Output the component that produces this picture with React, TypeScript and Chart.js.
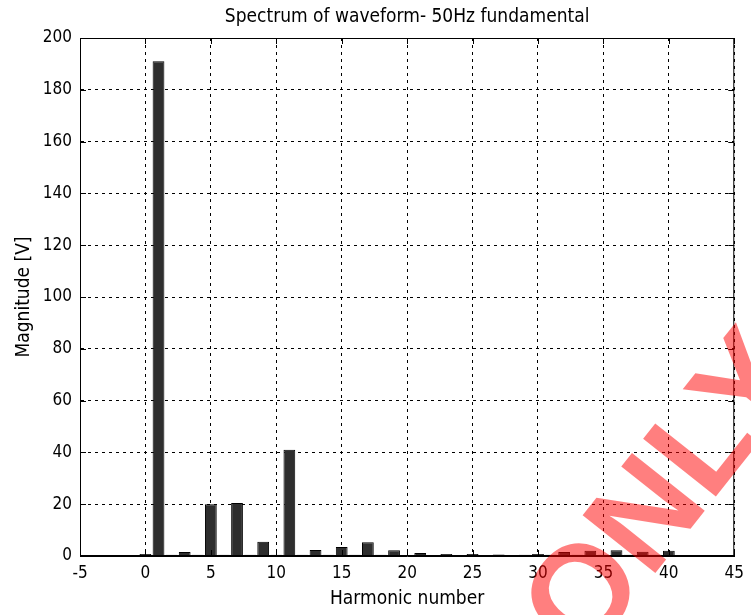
import React, { useEffect, useRef } from "react";
import { Chart, registerables } from "chart.js";

Chart.register(...registerables);

const harmonics = [0,1,2,3,4,5,6,7,8,9,10,11,12,13,14,15,16,17,18,19,20,21,22,23,24,25,26,27,28,29,30,31,32,33,34,35,36,37,38,39,40];
const magnitudes = [0.8,191,0.5,1.5,0.5,20,0.5,20.5,0.5,5.5,0.5,41,0.5,2.3,0.5,3.5,0.5,5.3,0.5,2.2,0.3,1.2,0.4,0.8,0.4,0.8,0.4,0.6,0.3,0.5,0.8,0.5,1.5,0.5,2,0.5,2.2,0.5,1.6,0.5,2];
const xTickValues = [-5,0,5,10,15,20,25,30,35,40,45];
const yTickValues = [0,20,40,60,80,100,120,140,160,180,200];
const titleText = "Spectrum of waveform- 50Hz fundamental";
const xTitle = "Harmonic number";
const yTitle = "Magnitude [V]";
const watermark = "ONLY";

const FONT = "'Liberation Sans Narrow', 'Arial Narrow', 'DejaVu Sans Condensed', 'Liberation Sans', sans-serif";

export default function App() {
  const ref = useRef<HTMLCanvasElement | null>(null);
  useEffect(() => {
    if (!ref.current) return;
    const boxPlugin = {
      id: "boxPlugin",
      afterDraw(chart: any) {
        const { ctx, chartArea } = chart;
        const { left, right, top, bottom } = chartArea;
        ctx.save();
        ctx.strokeStyle = "#000";
        ctx.lineWidth = 1;
        ctx.setLineDash([]);
        ctx.strokeRect(left + 0.5, top + 0.5, right - left - 1, bottom - top - 1);
        const xs = chart.scales.x;
        const ys = chart.scales.y;
        ctx.beginPath();
        xTickValues.forEach((v) => {
          const px = Math.round(xs.getPixelForValue(v)) + 0.5;
          ctx.moveTo(px, bottom); ctx.lineTo(px, bottom - 6);
          ctx.moveTo(px, top); ctx.lineTo(px, top + 6);
        });
        yTickValues.forEach((v) => {
          const py = Math.round(ys.getPixelForValue(v)) + 0.5;
          ctx.moveTo(left, py); ctx.lineTo(left + 6, py);
          ctx.moveTo(right, py); ctx.lineTo(right - 6, py);
        });
        ctx.stroke();
        // title centred over the plot area
        ctx.fillStyle = "#000";
        ctx.font = "19px " + FONT;
        ctx.textAlign = "center";
        ctx.textBaseline = "middle";
        ctx.fillText(titleText, (left + right) / 2, 17);
        // watermark
        ctx.translate(668, 497);
        ctx.rotate(-0.9);
        ctx.font = "bold 135px 'Liberation Sans', sans-serif";
        ctx.fillStyle = "rgba(255,0,0,0.5)";
        ctx.fillText(watermark, 0, 0);
        ctx.restore();
      },
    };
    const chart = new Chart(ref.current, {
      type: "bar",
      data: {
        datasets: [
          {
            data: harmonics.map((h, i) => ({ x: h, y: magnitudes[i] })),
            backgroundColor: "#2e2e2e",
            borderColor: "#000",
            borderWidth: 1,
            barPercentage: 0.9,
            categoryPercentage: 1,
          },
        ],
      },
      options: {
        animation: false,
        responsive: false,
        devicePixelRatio: 1,
        layout: { padding: { left: 0, right: 15, top: 38, bottom: 0 } },
        plugins: {
          legend: { display: false },
          tooltip: { enabled: false },
          title: { display: false },
        },
        scales: {
          x: {
            type: "linear",
            offset: false,
            min: -5,
            max: 45,
            afterBuildTicks: (s: any) => { s.ticks = xTickValues.map((v) => ({ value: v })); },
            afterFit: (s: any) => { s.height = 59; },
            ticks: { color: "#000", padding: 7, font: { family: FONT, size: 17 }, maxRotation: 0, autoSkip: false },
            grid: { color: "#000", drawTicks: false, lineWidth: 1, offset: false },
            border: { display: true, color: "#000", dash: [3, 4] },
            title: { display: true, text: xTitle, color: "#000", font: { family: FONT, size: 19 }, padding: { top: 5, bottom: 5 } },
          },
          y: {
            type: "linear",
            min: 0,
            max: 200,
            afterBuildTicks: (s: any) => { s.ticks = yTickValues.map((v) => ({ value: v })); },
            afterFit: (s: any) => { s.width = 80; },
            ticks: { color: "#000", padding: 8, font: { family: FONT, size: 17 }, autoSkip: false },
            grid: { color: "#000", drawTicks: false, lineWidth: 1 },
            border: { display: true, color: "#000", dash: [3, 4] },
            title: { display: true, text: yTitle, color: "#000", font: { family: FONT, size: 19 }, padding: { top: 13, bottom: 13 } },
          },
        },
      },
      plugins: [boxPlugin],
    } as any);
    return () => chart.destroy();
  }, []);
  return (
    <div style={{ position: "fixed", left: 0, top: 0, width: 751, height: 615, background: "#fff" }}>
      <canvas ref={ref} width={751} height={615} style={{ width: 751, height: 615 }} />
    </div>
  );
}
